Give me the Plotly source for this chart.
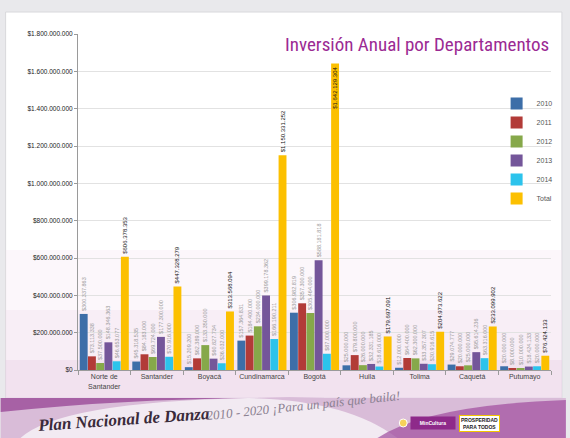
import plotly.graph_objects as go

# data
departamentos = ["Norte de<br>Santander", "Santander", "Boyacá", "Cundinamarca", "Bogotá",
                 "Huila", "Tolima", "Caquetá", "Putumayo"]
years = ["2010", "2011", "2012", "2013", "2014", "Total"]
v2010 = [300337863, 45318535, 15209200, 157364831, 306982819, 25000000, 12000000, 29074777, 20000000]
v2011 = [73113338, 84183000, 62389000, 184400000, 357300000, 79800000, 64400000, 20000000, 8000000]
v2012 = [37500000, 69724000, 133350000, 234000000, 305464000, 26000000, 62300000, 25000000, 10000000]
v2013 = [148346363, 177300000, 60827734, 399178362, 588181818, 32331185, 33357307, 95614236, 18424133]
v2014 = [46653077, 70916000, 36032000, 166190211, 87000000, 18616000, 30916615, 63316000, 20000000]
total = [606378353, 447328279, 313568094, 1150331252, 1642129304, 179697091, 204973622, 233099902, 76424133]
tick_vals = [0, 200e6, 400e6, 600e6, 800e6, 1000e6, 1200e6, 1400e6, 1600e6, 1800e6]
tick_text = ["$0", "$200.000.000", "$400.000.000", "$600.000.000", "$800.000.000",
             "$1.000.000.000", "$1.200.000.000", "$1.400.000.000", "$1.600.000.000", "$1.800.000.000"]

series = [v2010, v2011, v2012, v2013, v2014, total]
colors = ["#3d6ea8", "#b23b38", "#86a84a", "#74569a", "#2cc3ec", "#fcc000"]

W, H = 570, 438
L, R, T, B = 78, 555, 34, 370


def px(x):
    return (x - L) / (R - L)


def py(y):
    return (B - y) / (B - T)


def money(v):
    return "$" + f"{v:,}".replace(",", ".")


fig = go.Figure()
for name, vals, col in zip(years, series, colors):
    is_total = name == "Total"
    # the tallest total label sits inside its bar, like in the slide
    pos = ["inside" if (is_total and v > 1.5e9) else "outside" for v in vals]
    fig.add_trace(go.Bar(
        x=departamentos, y=vals, name=name,
        marker=dict(color=col, line=dict(width=0)),
        text=[money(v) for v in vals],
        textposition=pos, insidetextanchor="end", textangle=-90,
        constraintext="none", cliponaxis=False,
        textfont=dict(size=6 if is_total else 5.5,
                      color="#111111" if is_total else "#9a9a9a",
                      family="Liberation Sans Narrow, Liberation Sans, Arial"),
        insidetextfont=dict(size=6, color="#111111",
                            family="Liberation Sans Narrow, Liberation Sans, Arial"),
    ))

shapes = [
    # white slide panel
    dict(type="rect", xref="paper", yref="paper", x0=px(5), x1=px(566), y0=py(398), y1=py(12),
         fillcolor="white", line=dict(color="#d8d8dc", width=1), layer="below"),
    # soft pink tint in the lower part of the panel
    dict(type="rect", xref="paper", yref="paper", x0=px(5), x1=px(566), y0=py(398), y1=py(250),
         fillcolor="#f4e6f2", opacity=0.3, line=dict(width=0), layer="below"),
    dict(type="rect", xref="paper", yref="paper", x0=px(5), x1=px(566), y0=py(398), y1=py(310),
         fillcolor="#f0dcee", opacity=0.35, line=dict(width=0), layer="below"),
    dict(type="rect", xref="paper", yref="paper", x0=px(5), x1=px(566), y0=py(398), y1=py(360),
         fillcolor="#e8cfe6", opacity=0.4, line=dict(width=0), layer="below"),
    # footer band
    dict(type="rect", xref="paper", yref="paper", x0=px(0), x1=px(570), y0=py(438), y1=py(398),
         fillcolor="#d9bcd8", line=dict(width=0), layer="below"),
    dict(type="path", xref="paper", yref="paper", layer="below", line=dict(width=0),
         fillcolor="#9a4a98", opacity=0.8,
         path=f"M {px(0)},{py(398)} L {px(0)},{py(412)} Q {px(150)},{py(396)} {px(330)},{py(398)} Z"),
    dict(type="path", xref="paper", yref="paper", layer="below", line=dict(width=0),
         fillcolor="#f3ecf3", opacity=0.95,
         path=f"M {px(20)},{py(438)} Q {px(60)},{py(402)} {px(250)},{py(398)} "
              f"Q {px(350)},{py(400)} {px(400)},{py(438)} Z"),
    dict(type="path", xref="paper", yref="paper", layer="below", line=dict(width=0),
         fillcolor="#a04c9e", opacity=0.7,
         path=f"M {px(380)},{py(438)} Q {px(430)},{py(405)} {px(570)},{py(400)} "
              f"L {px(570)},{py(438)} Z"),
    dict(type="circle", xref="paper", yref="paper", layer="above", x0=px(402), x1=px(410),
         y0=py(427), y1=py(419), fillcolor="#f6d25a", line=dict(color="#ffffff", width=1)),
]

fig.update_layout(
    width=W, height=H,
    margin=dict(l=L, r=W - R, t=T, b=H - B),
    paper_bgcolor="#e9e9ec", plot_bgcolor="rgba(0,0,0,0)",
    barmode="group", bargap=0.06, bargroupgap=0.04,
    font=dict(family="Liberation Sans, Arial", color="#333333"),
    showlegend=True,
    legend=dict(x=0.885, y=0.836, xanchor="left", yanchor="top", bgcolor="rgba(0,0,0,0)",
                font=dict(size=7, color="#555555"), itemwidth=30, tracegroupgap=0),
    xaxis=dict(showline=True, linecolor="#9a9a9a", linewidth=1, ticks="outside",
               tickson="boundaries", ticklen=4, tickcolor="#9a9a9a", tickangle=0,
               automargin=False, tickfont=dict(size=7, color="#444444")),
    yaxis=dict(range=[0, 1800e6], tickvals=tick_vals, ticktext=tick_text, automargin=False,
               showgrid=True, gridcolor="#e2e2e2", gridwidth=1,
               showline=True, linecolor="#9a9a9a", ticks="outside", ticklen=3, tickcolor="#9a9a9a",
               tickfont=dict(size=6.5, color="#222222", family="Liberation Sans Narrow, Liberation Sans"),
               zeroline=False),
    shapes=shapes,
    annotations=[
        dict(text="Inversión Anual por Departamentos", xref="paper", yref="paper",
             x=px(555), y=py(44), xanchor="right", yanchor="middle", showarrow=False,
             font=dict(size=19, color="#9b2a93",
                       family="Liberation Sans Narrow, Roboto Condensed, Liberation Sans")),
        dict(text="<b><i>Plan Nacional de Danza</i></b>",
             xref="paper", yref="paper", x=px(124), y=py(419), xanchor="center", yanchor="middle",
             showarrow=False, textangle=-4,
             font=dict(size=17, color="#3a2a3a", family="Liberation Serif, DejaVu Serif")),
        dict(text="<i>2010 - 2020 ¡Para un país que baila!</i>",
             xref="paper", yref="paper", x=px(305), y=py(405), xanchor="center", yanchor="middle",
             showarrow=False, textangle=-6,
             font=dict(size=13, color="#8a8090", family="Liberation Serif, DejaVu Serif")),
        dict(text="<b>MinCultura</b>", xref="paper", yref="paper", x=px(436), y=py(423),
             xanchor="center", yanchor="middle", showarrow=False, bgcolor="#8e2a8a",
             font=dict(size=5, color="white"), borderpad=3, width=38),
        dict(text="<b>PROSPERIDAD<br>PARA TODOS</b>", xref="paper", yref="paper", x=px(483), y=py(423),
             xanchor="center", yanchor="middle", showarrow=False, bgcolor="white",
             bordercolor="#f2c400", borderwidth=1,
             font=dict(size=5, color="#222222"), borderpad=1),
    ],
)

fig.write_html("out.html", config={"displayModeBar": False},
               post_script="document.body.style.margin='0px';")
